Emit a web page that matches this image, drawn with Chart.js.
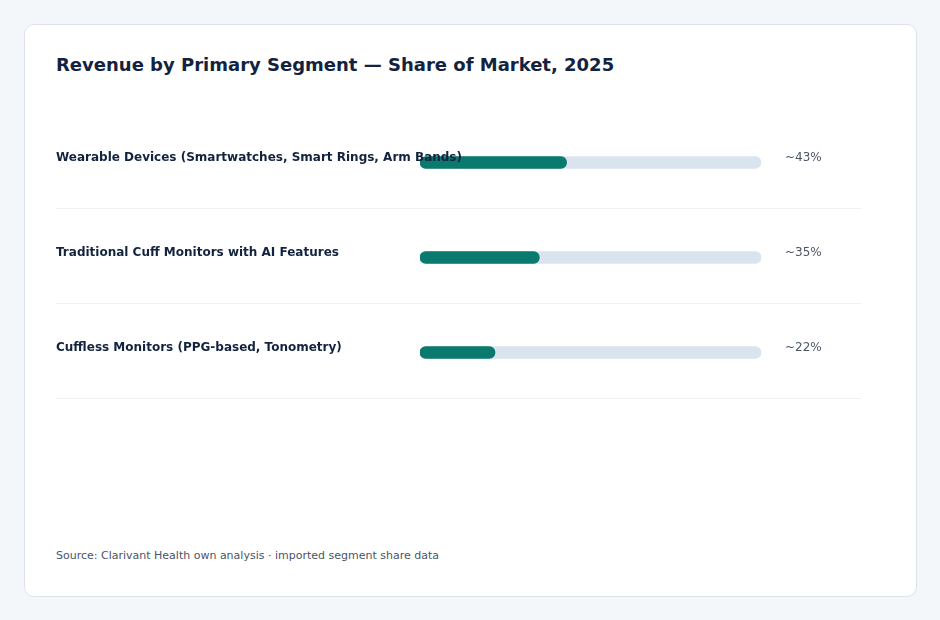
<!DOCTYPE html>
<html>
<head>
<meta charset="utf-8">
<script src="https://cdn.jsdelivr.net/npm/chart.js@4"></script>
<style>
  html, body { margin: 0; padding: 0; }
  body { width: 940px; height: 620px; background: #f4f7fa; font-family: "DejaVu Sans", sans-serif; position: relative; }
  .card { position: absolute; left: 24px; top: 24px; width: 893px; height: 573px; background: #fff;
          border: 1px solid #dde3ea; border-radius: 10px; box-sizing: border-box; }
  h1 { position: absolute; left: 31px; top: 29px; margin: 0; font-size: 18px; font-weight: bold; color: #13233f; }
  .wrap { position: absolute; left: 31px; top: 76px; width: 805px; height: 310px; }
  .src { position: absolute; left: 31px; top: 524px; font-size: 11px; color: #4a5565; }
</style>
</head>
<body>
<div class="card">
  <h1>Revenue by Primary Segment — Share of Market, 2025</h1>
  <div class="wrap"><canvas id="chart-area1"></canvas></div>
  <div class="src">Source: Clarivant Health own analysis · imported segment share data</div>
</div>
<script>
var segments = ["Wearable Devices (Smartwatches, Smart Rings, Arm Bands)",
                "Traditional Cuff Monitors with AI Features",
                "Cuffless Monitors (PPG-based, Tonometry)"];
var shares = [43, 35, 22];
var valueLabels = ["~43%", "~35%", "~22%"];
var trackValues = [100, 100, 100];

// labels, values and row separators drawn around the bars
var rowText = {
  id: 'rowText',
  afterDatasetsDraw: function(chart) {
    var ctx = chart.ctx;
    var y = chart.scales.y;
    var area = chart.chartArea;
    var band = (area.bottom - area.top) / segments.length;
    ctx.save();
    for (var i = 0; i < segments.length; i++) {
      var cy = y.getPixelForValue(i);
      ctx.font = 'bold 12px "DejaVu Sans", sans-serif';
      ctx.fillStyle = '#13233f';
      ctx.textBaseline = 'middle';
      ctx.textAlign = 'left';
      ctx.fillText(segments[i], 0, cy - 5);
      ctx.font = '12px "DejaVu Sans", sans-serif';
      ctx.fillStyle = '#4a5565';
      ctx.fillText(valueLabels[i], area.right + 24, cy - 5);
      var sy = Math.round(cy + band / 2 - 2) + 0.5;
      ctx.strokeStyle = '#eef1f4';
      ctx.lineWidth = 1;
      ctx.beginPath();
      ctx.moveTo(0, sy);
      ctx.lineTo(chart.width, sy);
      ctx.stroke();
    }
    ctx.restore();
  }
};

var config = {
  type: 'bar',
  data: {
    labels: segments,
    datasets: [{
      data: shares,
      backgroundColor: '#0b7a6e',
      borderRadius: 6,
      borderSkipped: false,
      barThickness: 12,
      grouped: false,
      order: 0
    }, {
      data: trackValues,
      backgroundColor: '#dae4ee',
      borderRadius: 6,
      borderSkipped: false,
      barThickness: 12,
      grouped: false,
      order: 1
    }]
  },
  options: {
    indexAxis: 'y',
    responsive: true,
    maintainAspectRatio: false,
    animation: false,
    layout: { padding: { left: 364, right: 100, top: 14, bottom: 11 } },
    plugins: { legend: { display: false }, tooltip: { enabled: false } },
    scales: {
      x: { min: 0, max: 100, display: false },
      y: { display: false }
    }
  },
  plugins: [rowText]
};

var ctx = document.getElementById("chart-area1");
window.segChart = new Chart(ctx, config);
</script>
</body>
</html>
